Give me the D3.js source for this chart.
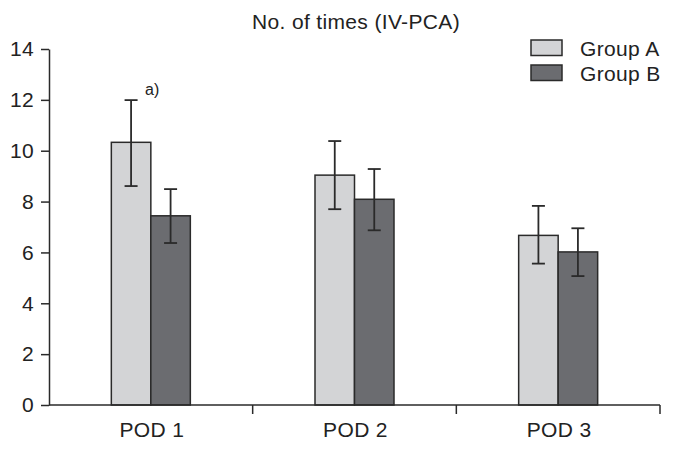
<!DOCTYPE html>
<html>
<head>
<meta charset="utf-8">
<script src="https://cdn.jsdelivr.net/npm/d3@7"></script>
<style>
  html, body { margin: 0; padding: 0; background: #fff; }
  svg { display: block; font-family: "Liberation Sans", Arial, sans-serif; }
</style>
</head>
<body>
<script>
const categories = ["POD 1", "POD 2", "POD 3"];
const groups = ["Group A", "Group B"];
const groupAMeans = [10.33, 9.04, 6.67];
const groupBMeans = [7.44, 8.09, 6.02];
const groupAUpper = [11.99, 10.38, 7.83];
const groupALower = [8.61, 7.70, 5.56];
const groupBUpper = [8.49, 9.28, 6.95];
const groupBLower = [6.37, 6.87, 5.07];
const yTicks = [0, 2, 4, 6, 8, 10, 12, 14];
const annotations = [{ category: "POD 1", group: "Group A", text: "a)" }];
const title = "No. of times (IV-PCA)";

const colors = { "Group A": "#d3d4d6", "Group B": "#6b6c70" };
const ink = "#2a2a2a";
const fs = 21, ls = "0.35px";

const W = 673, H = 450;
const svg = d3.select("body").append("svg").attr("width", W).attr("height", H);

const x0 = d3.scaleBand().domain(categories).range([49, 660]).padding(0);
const barW = 39.5;
const x1 = d3.scaleBand().domain(groups)
  .range([x0.bandwidth() / 2 - barW, x0.bandwidth() / 2 + barW]).padding(0);
const y = d3.scaleLinear().domain([0, 14]).range([405, 49]);

const rows = [];
categories.forEach((c, i) => {
  rows.push({ cat: c, grp: "Group A", v: groupAMeans[i], hi: groupAUpper[i], lo: groupALower[i] });
  rows.push({ cat: c, grp: "Group B", v: groupBMeans[i], hi: groupBUpper[i], lo: groupBLower[i] });
});

// Title
svg.append("text").attr("x", 356).attr("y", 29).attr("text-anchor", "middle")
  .attr("font-size", fs).attr("letter-spacing", ls).attr("fill", "#222").text(title);

// Bars
svg.append("g").selectAll("rect").data(rows).join("rect")
  .attr("x", d => x0(d.cat) + x1(d.grp))
  .attr("y", d => y(d.v))
  .attr("width", x1.bandwidth())
  .attr("height", d => y(0) - y(d.v))
  .attr("fill", d => colors[d.grp])
  .attr("stroke", ink).attr("stroke-width", 1.5);

// Error bars
const eg = svg.append("g").attr("stroke", ink).attr("stroke-width", 1.8);
rows.forEach(d => {
  const cx = x0(d.cat) + x1(d.grp) + x1.bandwidth() / 2;
  eg.append("line").attr("x1", cx).attr("x2", cx).attr("y1", y(d.hi)).attr("y2", y(d.lo));
  eg.append("line").attr("x1", cx - 6.5).attr("x2", cx + 6.5).attr("y1", y(d.hi)).attr("y2", y(d.hi));
  eg.append("line").attr("x1", cx - 6.5).attr("x2", cx + 6.5).attr("y1", y(d.lo)).attr("y2", y(d.lo));
});

// Annotation
annotations.forEach(a => {
  const r = rows.find(d => d.cat === a.category && d.grp === a.group);
  const cx = x0(r.cat) + x1(r.grp) + x1.bandwidth() / 2;
  svg.append("text").attr("x", cx + 14).attr("y", y(r.hi) - 5)
    .attr("font-size", 16).attr("fill", "#222").text(a.text);
});

// Y axis
const yAxis = svg.append("g").attr("transform", "translate(49,0)")
  .call(d3.axisLeft(y).tickValues(yTicks).tickSize(8).tickPadding(7).tickSizeOuter(0));
yAxis.select(".domain").attr("stroke", ink).attr("stroke-width", 1.5);
yAxis.selectAll(".tick line").attr("stroke", ink).attr("stroke-width", 1.5);
yAxis.selectAll(".tick text").attr("font-size", fs).attr("letter-spacing", ls).attr("fill", "#222")
  .attr("font-family", "Liberation Sans, Arial, sans-serif");

// X axis
const xg = svg.append("g").attr("transform", "translate(0,405)");
xg.append("line").attr("x1", 49).attr("x2", 660).attr("y1", 0).attr("y2", 0)
  .attr("stroke", ink).attr("stroke-width", 1.5);
const boundaries = categories.map(c => x0(c) + x0.bandwidth());
xg.selectAll("line.tk").data(boundaries).join("line").attr("class", "tk")
  .attr("x1", d => d).attr("x2", d => d).attr("y1", 0).attr("y2", 9)
  .attr("stroke", ink).attr("stroke-width", 1.5);
xg.selectAll("text").data(categories).join("text")
  .attr("x", d => x0(d) + x0.bandwidth() / 2 + 1).attr("y", 32)
  .attr("text-anchor", "middle").attr("font-size", fs).attr("letter-spacing", ls).attr("fill", "#222")
  .text(d => d);

// Legend
const lg = svg.append("g");
groups.forEach((g, i) => {
  lg.append("rect").attr("x", 531).attr("y", 40 + i * 25).attr("width", 31).attr("height", 15.5)
    .attr("fill", colors[g]).attr("stroke", ink).attr("stroke-width", 1.5);
  lg.append("text").attr("x", 580).attr("y", 55.5 + i * 25)
    .attr("font-size", fs).attr("letter-spacing", ls).attr("fill", "#222").text(g);
});
</script>
</body>
</html>
